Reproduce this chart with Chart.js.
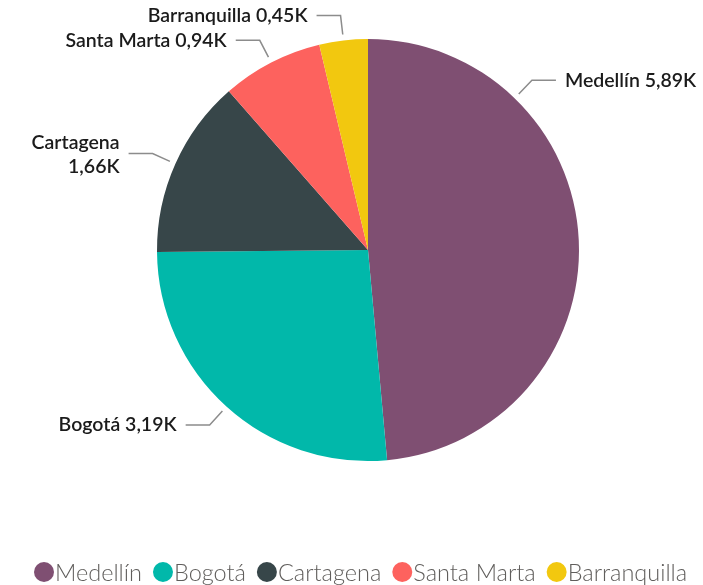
<!DOCTYPE html>
<html>
<head>
<meta charset="utf-8">
<script src="https://cdn.jsdelivr.net/npm/chart.js@4/dist/chart.umd.min.js"></script>
<style>
  html, body { margin: 0; padding: 0; background: #fff; }
  #wrap { width: 703px; height: 585px; position: relative; }
</style>
</head>
<body>
<div id="wrap"><canvas id="grafico" width="703" height="585"></canvas></div>
<script>
// dados do gráfico
let ciudades = ['Medellín', 'Bogotá', 'Cartagena', 'Santa Marta', 'Barranquilla']
let valores = [5.89, 3.19, 1.66, 0.94, 0.45]
let etiquetas = ['5,89K', '3,19K', '1,66K', '0,94K', '0,45K']
let colores = ['#7F4F72', '#01B8AA', '#374649', '#FD625E', '#F2C80F']

const FONTE = 'Lato'

// rótulos com linha de chamada
const rotulos = {
    id: 'rotulos',
    afterDatasetsDraw(chart) {
        const ctx = chart.ctx
        const arcos = chart.getDatasetMeta(0).data
        ctx.save()
        ctx.font = '600 19.5px ' + FONTE
        ctx.fillStyle = '#1b1b1b'
        ctx.strokeStyle = '#8c8c8c'
        ctx.lineWidth = 1.5
        arcos.forEach((arco, i) => {
            let ang = (arco.startAngle + arco.endAngle) / 2
            if (i == 0) ang = -Math.PI / 2 + 44 * Math.PI / 180
            const r = arco.outerRadius
            const x1 = arco.x + Math.cos(ang) * (r + 6)
            const y1 = arco.y + Math.sin(ang) * (r + 6)
            const x2 = arco.x + Math.cos(ang) * (r + 25)
            const y2 = arco.y + Math.sin(ang) * (r + 25)
            const dir = Math.cos(ang) >= 0 ? 1 : -1
            const x3 = x2 + dir * 24
            ctx.beginPath()
            ctx.moveTo(x1, y1)
            ctx.lineTo(x2, y2)
            ctx.lineTo(x3, y2)
            ctx.stroke()
            const texto = ciudades[i] + ' ' + etiquetas[i]
            const tx = x3 + dir * 9
            ctx.textBaseline = 'middle'
            ctx.textAlign = dir > 0 ? 'left' : 'right'
            const w = ctx.measureText(texto).width
            if (dir < 0 && tx - w < 8) {
                ctx.fillText(ciudades[i], tx, y2 - 11)
                ctx.fillText(etiquetas[i], tx, y2 + 13)
            } else {
                ctx.fillText(texto, tx, y2)
            }
        })
        ctx.restore()
    }
}

// legenda embaixo
const legenda = {
    id: 'legenda',
    afterDraw(chart) {
        const ctx = chart.ctx
        ctx.save()
        ctx.font = '300 23.5px ' + FONTE
        ctx.textBaseline = 'middle'
        ctx.textAlign = 'left'
        let x = 34
        const y = 572
        ciudades.forEach((c, i) => {
            ctx.fillStyle = colores[i]
            ctx.beginPath()
            ctx.arc(x + 10, y, 10, 0, Math.PI * 2)
            ctx.fill()
            ctx.fillStyle = '#605E5C'
            ctx.fillText(c, x + 21, y + 1)
            x += 21 + ctx.measureText(c).width + 11
        })
        ctx.restore()
    }
}

const ctx = document.getElementById('grafico').getContext('2d')
const grafico = new Chart(ctx, {
    type: 'pie',
    data: {
        labels: ciudades,
        datasets: [{
            data: valores,
            backgroundColor: colores,
            borderWidth: 0
        }]
    },
    options: {
        responsive: false,
        animation: false,
        layout: { padding: { top: 39, bottom: 124, left: 157, right: 124 } },
        plugins: {
            legend: { display: false },
            tooltip: { enabled: false }
        }
    },
    plugins: [rotulos, legenda]
})
</script>
</body>
</html>
